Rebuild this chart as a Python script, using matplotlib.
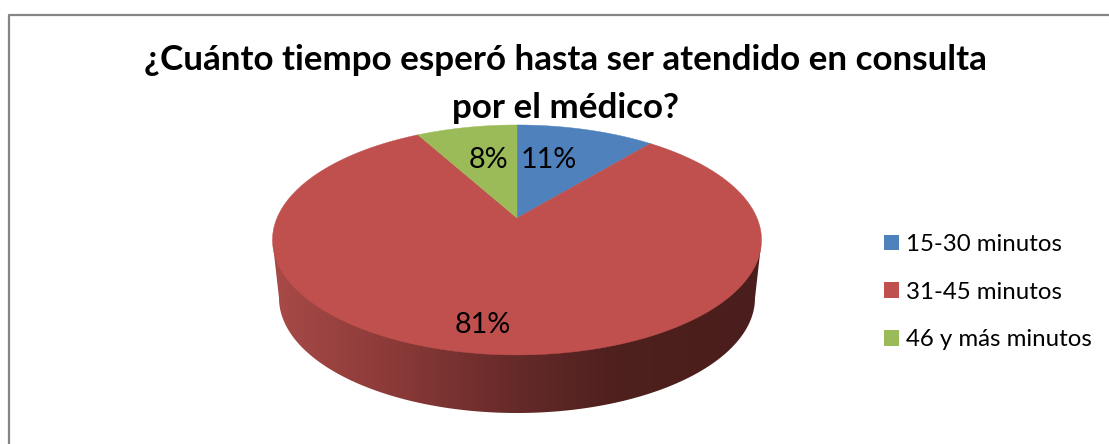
import numpy as np
import matplotlib
matplotlib.use('Agg')
import matplotlib.pyplot as plt
from matplotlib.colors import LinearSegmentedColormap
from matplotlib.patches import Patch, Polygon

# respuestas de la encuesta
categorias = ['15-30 minutos', '31-45 minutos', '46 y más minutos']
porcentajes = [11, 81, 8]
colores = ['#4F81BD', '#C0504D', '#9BBB59']
titulo = '¿Cuánto tiempo esperó hasta ser atendido en consulta\npor el médico?'

plt.rcParams['font.family'] = ['Lato', 'DejaVu Sans']

fig = plt.figure(figsize=(11.09, 4.44), dpi=100)
ax = fig.add_axes([0, 0, 1, 1])
ax.axis('off')

# centro del pastel y perspectiva de la cara superior
cx, cy = 517, 218
ancho, alto, k = 240, 110.8, 0.191


def borde(theta):
    w = 1 + k * np.cos(theta)
    return cx + ancho * np.sin(theta) / w, cy - alto * np.cos(theta) / w


# pared lateral con degradado
arco = np.linspace(0, np.pi, 200)
lado = np.column_stack([
    np.r_[273, 517 - 238 * np.cos(arco), 761],
    np.r_[245, 298 + 115 * np.sin(arco), 245],
])
cmap = LinearSegmentedColormap.from_list('lado', [
    (0.00, '#A84A48'), (0.25, '#8A3A38'), (0.50, '#652A29'),
    (0.70, '#4E201E'), (1.00, '#4A1E1C'),
])
img = ax.imshow(np.linspace(0, 1, 256)[None, :], cmap=cmap, aspect='auto',
                extent=(272, 762, 414, 240), zorder=1)
clip = Polygon(lado, closed=True, transform=ax.transData, fc='none', ec='none')
ax.add_patch(clip)
img.set_clip_path(clip)

# cara superior, una cuña por categoría
inicio = 0
parches = []
for valor, color in zip(porcentajes, colores):
    fin = inicio + valor
    ang = np.linspace(inicio, fin, 300) / 100 * 2 * np.pi
    bx, by = borde(ang)
    ax.fill(np.r_[cx, bx], np.r_[cy, by], color=color, lw=0.3, zorder=2)
    parches.append(Patch(facecolor=color, edgecolor='none'))
    inicio = fin

# etiquetas de porcentaje
pos_etiquetas = [(549, 160), (483, 325), (488, 160)]
for valor, (x, y) in zip(porcentajes, pos_etiquetas):
    ax.text(x, y, f'{valor}%', fontsize=20.7, color='black', ha='center', va='center', zorder=3)

ax.text(565, 84, titulo, fontsize=25.2, fontweight='bold', ha='center', va='center',
        linespacing=1.62, color='black')

# marco del gráfico
ax.plot([9, 9, 1109], [444, 15, 15], color='#868686', lw=1.6, zorder=4)

ax.set_xlim(0, 1109)
ax.set_ylim(444, 0)

ax.legend(parches, categorias, loc='upper left', bbox_to_anchor=(884 / 1109, 1 - 234 / 444),
          frameon=False, fontsize=17.3, labelspacing=1.11, handlelength=0.63, handleheight=0.63,
          handletextpad=0.27, borderpad=0, borderaxespad=0)

fig.savefig('out.png', dpi=100)
